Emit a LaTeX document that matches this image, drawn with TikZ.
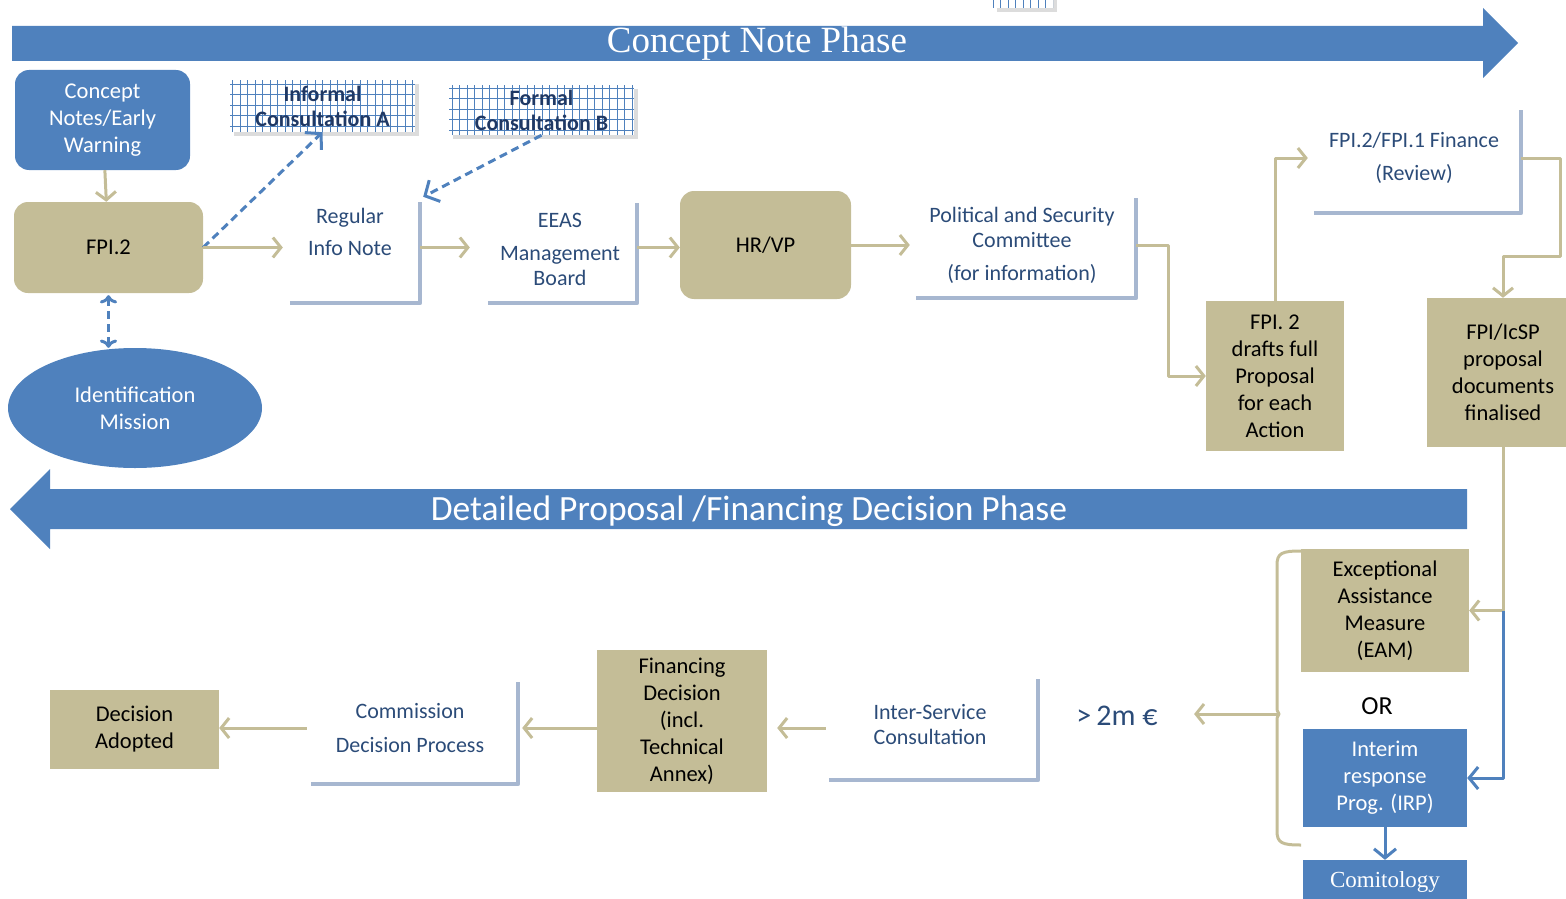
\documentclass[tikz,border=0pt]{standalone}
\usepackage{fontspec}
\newfontfamily\calfont{Carlito}
\newfontfamily\titlefont{Liberation Serif}
\usetikzlibrary{arrows.meta,shapes.geometric,shadows}
\definecolor{phaseblue}{HTML}{4F81BD}
\definecolor{boxtan}{HTML}{C4BD97}
\definecolor{brkgrey}{HTML}{A7B7D0}
\definecolor{notenavy}{HTML}{2B4B78}
\definecolor{gridnavy}{HTML}{1F3864}
\tikzset{
  tanbox/.style={rectangle, fill=boxtan, align=center, inner sep=0pt, text=black,
    font=\calfont\fontsize{22.5}{27}\selectfont},
  roundtan/.style={tanbox, rounded corners=14pt},
  bluebox/.style={tanbox, fill=phaseblue, text=white},
  roundblue/.style={bluebox, rounded corners=14pt},
  note/.style={align=center, inner sep=0pt, text=notenavy,
    font=\calfont\fontsize{22}{25}\selectfont},
  brk/.style={rectangle, inner sep=0pt},
  brkline/.style={draw=brkgrey, line width=4pt},
  gridbox/.style={rectangle, inner sep=0pt, fill=white, align=center, text=gridnavy,
    font=\calfont\bfseries\fontsize{22}{25}\selectfont,
    drop shadow={shadow xshift=4pt, shadow yshift=-4pt, fill=black!45, opacity=.3},
    path picture={\draw[draw=phaseblue, line width=1pt]
      (path picture bounding box.south west) grid[xstep=7.5pt, ystep=10.5pt] (path picture bounding box.north east);}},
  flow/.style={draw=boxtan, line width=3pt, -{Straight Barb[length=8pt,width=20pt]}},
  tanline/.style={draw=boxtan, line width=3pt},
  bflow/.style={draw=phaseblue, line width=3pt, -{Straight Barb[length=9pt,width=22pt]}},
  dflow/.style={draw=phaseblue, line width=3pt, dash pattern=on 8pt off 5pt,
    -{Straight Barb[length=11pt,width=24pt]}},
  phase/.style={fill=phaseblue},
}
\begin{document}
\begin{tikzpicture}[x=1pt,y=-1pt,line join=round]
\useasboundingbox (0,0) rectangle (1566,899);
% phases
\fill[phase] (12,26) -- (1483,26) -- (1483,8) -- (1518,43) -- (1483,78) -- (1483,61) -- (12,61) -- cycle;
\node[text=white, font=\titlefont\fontsize{37}{37}\selectfont] (cnp) at (757,44) {Concept Note Phase};
\fill[phase] (1467,489) -- (50,489) -- (50,469) -- (10,509) -- (50,549) -- (50,529) -- (1467,529) -- cycle;
\node[text=white, font=\calfont\fontsize{35.5}{35.5}\selectfont] (dpp) at (749,511) {Detailed Proposal /Financing Decision Phase};

% top row
\node[roundblue, minimum width=175, minimum height=100] (cn) at (102.5,120) {Concept\\Notes/Early\\Warning};
\node[roundtan, minimum width=189, minimum height=91] (fpi) at (108.5,247.5) {FPI.2};
\node[ellipse, fill=phaseblue, text=white, align=center, inner sep=0pt, minimum width=254, minimum height=120,
  font=\calfont\fontsize{22.5}{27}\selectfont] (idm) at (135,408) {Identification\\Mission};
\node[gridbox, minimum width=185, minimum height=52] (infa) at (322.5,106) {Informal\\Consultation A};
\node[gridbox, minimum width=185, minimum height=50] (forb) at (541.5,110) {Formal\\Consultation B};
\node[gridbox, minimum width=60, minimum height=18] (stub) at (1023,-1) {};

\node[brk, minimum width=130, minimum height=101] (regb) at (355,252.5) {};
\draw[brkline] (regb.south west) -| (regb.north east);
\node[note, font=\calfont\fontsize{22}{32}\selectfont] (reg) at (350,232) {Regular\\Info Note};

\node[brk, minimum width=149, minimum height=100] (eeasb) at (562.5,253) {};
\draw[brkline] (eeasb.south west) -| (eeasb.north east);
\node[note] (eeas) at (560,249) {EEAS\\[8pt]Management\\Board};

\node[roundtan, minimum width=171, minimum height=108] (hrvp) at (765.5,245) {HR/VP};

\node[brk, minimum width=220, minimum height=100] (pscb) at (1026,248) {};
\draw[brkline] (pscb.south west) -| (pscb.north east);
\node[note] (psc) at (1022,245) {Political and Security\\Committee\\[8pt](for information)};

\node[tanbox, minimum width=138, minimum height=150] (drafts) at (1275,376) {FPI. 2\\drafts full\\Proposal\\for each\\Action};

\node[brk, minimum width=207, minimum height=103] (finb) at (1417.5,161.5) {};
\draw[brkline] (finb.south west) -| (finb.north east);
\node[note, font=\calfont\fontsize{22}{33}\selectfont] (fin) at (1414,158) {FPI.2/FPI.1 Finance\\(Review)};

\node[tanbox, minimum width=152, minimum height=149] (fin2) at (1503,372.5) {FPI/IcSP\\proposal\\documents\\finalised};

% bottom row
\node[tanbox, minimum width=168, minimum height=123] (eam) at (1385,610.5) {Exceptional\\Assistance\\Measure\\(EAM)};
\node[font=\calfont\fontsize{26}{26}\selectfont] (or) at (1377,706) {OR};
\node[bluebox, minimum width=164, minimum height=98] (irp) at (1385,778) {Interim\\response\\Prog. (IRP)};
\node[bluebox, minimum width=164, minimum height=44, font=\titlefont\fontsize{23}{23}\selectfont] (com) at (1385,882) {Comitology};
\node[text=notenavy, font=\calfont\fontsize{30}{30}\selectfont] (gt) at (1117,716) {>\,2m €};

\node[brk, minimum width=209, minimum height=101] (iscb) at (933.5,729.5) {};
\draw[brkline] (iscb.south west) -| (iscb.north east);
\node[note] (isc) at (930,725) {Inter-Service\\Consultation};

\node[tanbox, minimum width=170, minimum height=142] (fd) at (682,721) {Financing\\Decision\\(incl.\\Technical\\Annex)};

\node[brk, minimum width=207, minimum height=102] (cdpb) at (414.5,733) {};
\draw[brkline] (cdpb.south west) -| (cdpb.north east);
\node[note, font=\calfont\fontsize{22}{34}\selectfont] (cdp) at (410,728) {Commission\\Decision Process};

\node[tanbox, minimum width=169, minimum height=79] (da) at (134.5,729.5) {Decision\\Adopted};

% connectors top
\draw[flow] (cn) -- (fpi);
\draw[dflow, <->, shorten <=2pt] (fpi.south) -- (fpi.south |- idm.north);
\draw[dflow] (fpi.east) -- (infa.south);
\draw[dflow] (forb.south) -- ([xshift=3pt,yshift=5pt]regb.north east);
\draw[flow, shorten >=7pt] (fpi.east) -- (fpi.east -| regb.west);
\draw[flow, shorten >=18pt] (regb.east |- fpi.east) -- (eeasb.west |- fpi.east);
\draw[flow] (eeasb.east |- fpi.east) -- (hrvp.west |- fpi.east);
\draw[flow, shorten >=6pt] (hrvp.east) -- (pscb.west |- hrvp.east);
\draw[flow] (pscb.east |- hrvp.east) -- ++(32,0) |- (drafts.west);
\draw[flow, shorten >=6pt] (drafts.north) |- (finb.west |- fin.center);
\draw[flow] (finb.east |- fin.center) -- ++(39,0) -- ++(0,98) -| (fin2.north);
\draw[flow] (fin2.south) |- (eam.east);
\draw[bflow] (fin2.south |- eam.east) |- (irp.east);
\draw[bflow] (irp) -- (com);

% brace and bottom connectors
\coordinate (bt) at (1301,551);
\coordinate (bb) at (1301,845);
\coordinate (bm) at (1279,714);
\draw[tanline] (bt) .. controls (1282,551) and (1277,553) .. (1277,565) -- (1277,704)
  .. controls (1277,711) .. (bm) .. controls (1277,717) .. (1277,724) -- (1277,831)
  .. controls (1277,843) and (1282,845) .. (bb);
\draw[flow, shorten >=33pt] (bm) -- (gt.east |- bm);
\draw[flow, shorten <=3pt, shorten >=10pt] (iscb.west |- fd.east) ++(0,7) -- ([yshift=-7pt]fd.east);
\draw[flow, shorten >=4pt] (fd.west |- cdp.center) -- (cdpb.east |- cdp.center);
\draw[flow, shorten <=4pt] (cdpb.west |- cdp.center) -- (da.east |- cdp.center);
\end{tikzpicture}
\end{document}
